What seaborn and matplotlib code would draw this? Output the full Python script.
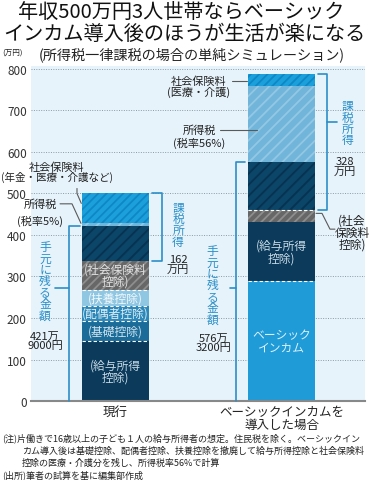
import numpy as np
import matplotlib.pyplot as plt
import seaborn as sns

sns.set_theme(style="white")
plt.rcParams['font.family'] = ['Noto Sans CJK JP', 'DejaVu Sans']
plt.rcParams['hatch.linewidth'] = 1.3

# データ（万円）
cats = ["現行", "ベーシックインカムを\n導入した場合"]
genko_items = ["給与所得控除", "基礎控除", "配偶者控除", "扶養控除", "社会保険料控除", "手取り", "所得税", "社会保険料"]
genko_values = [144, 48, 38, 38, 70, 83.9, 8.1, 70]
bi_items = ["ベーシックインカム", "給与所得控除", "社会保険料控除", "手取り", "所得税", "社会保険料"]
bi_values = [288, 144, 28, 116.32, 183.68, 28]
genko_inner = ["(給与所得\n控除)", "(基礎控除)", "(配偶者控除)", "(扶養控除)", "(社会保険料\n控除)", "", "", ""]
bi_inner = ["ベーシック\nインカム", "(給与所得\n控除)", "", "", "", ""]
taxable_text = ["162\n万円", "328\n万円"]
takehome_text = ["421万\n9000円", "576万\n3200円"]
yticks = [0, 100, 200, 300, 400, 500, 600, 700, 800]

# 色・ハッチ (塗り, ハッチ, ハッチ色, 文字色)
style = {
    "給与所得控除": ("#0b3a5b", None, None, "#c9dae6"),
    "基礎控除": ("#1b6c98", None, None, "#d3e5f0"),
    "配偶者控除": ("#2c88b9", None, None, "#e0eff8"),
    "扶養控除": ("#8fc6e2", None, None, "#f2f9fd"),
    "社会保険料控除": ("#676767", "////", "#8e8e8e", "#e0e0e0"),
    "手取り": ("#0b4568", "///", "#073250", None),
    "所得税": ("#72b5da", "///", "#93c8e4", None),
    "社会保険料": ("#1ba0dc", "////", "#0d87c5", None),
    "ベーシックインカム": ("#1f9bd7", None, None, "#dcf0fb"),
}
blue = "#2b8fc8"
lead = "#5a5a5a"
ink = "#222222"

fig = plt.figure(figsize=(3.7, 4.81), dpi=100)
ax = fig.add_axes([0.0838, 0.1642, 0.9027, 0.6965])
ax.set_facecolor("#e6f3fb")

for i, (cat, items, values, inner) in enumerate(zip(cats, [genko_items, bi_items],
                                                    [genko_values, bi_values],
                                                    [genko_inner, bi_inner])):
    tops = np.cumsum(values)
    # 上の段から順に重ね描き
    for item, top in reversed(list(zip(items, tops))):
        face, hatch, hcol, _ = style[item]
        n0 = len(ax.patches)
        sns.barplot(x=[cat], y=[top], order=cats, color=face, saturation=1,
                    width=0.4, errorbar=None, ax=ax, zorder=2)
        for p in ax.patches[n0:]:
            p.set_linewidth(0)
            if hatch:
                p.set_hatch(hatch)
                p.set_edgecolor(hcol)
    bottoms = tops - np.array(values)
    for item, b, v, txt in zip(items, bottoms, values, inner):
        if txt:
            ax.text(i, b + v / 2, txt, ha="center", va="center", fontsize=8.5,
                    color=style[item][3], linespacing=0.95, zorder=4)

# 控除の境目の破線
for i, values, idx in [(0, genko_values, [0, 1, 2, 3]), (1, bi_values, [0, 2])]:
    tops = np.cumsum(values)
    for k in idx:
        ax.hlines(tops[k], i - 0.2, i + 0.2, colors="white", linestyles=(0, (3, 2)),
                  lw=0.8, zorder=3)

# 手元に残る金額・課税所得の括弧
g_tops = np.cumsum(genko_values)
b_tops = np.cumsum(bi_values)
th = [g_tops[5], b_tops[3]]
ded = [g_tops[4], b_tops[2]]
tot = [g_tops[-1], b_tops[-1]]

def vtext(x, y, s):
    ax.text(x, y, "\n".join(s), ha="center", va="center", fontsize=8.5,
            color=blue, linespacing=0.84, zorder=4)

def ntext(x, y, s):
    ax.text(x, y, s, ha="center", va="center", fontsize=8, color=ink, linespacing=0.9)

# 現行
ax.plot([-0.215, -0.28, -0.28], [th[0], th[0], 0], color=blue, lw=1.2, zorder=4, clip_on=False)
ax.plot([-0.364, -0.28], [272, 272], color=blue, lw=1.2, zorder=4)
vtext(-0.425, 290, "手元に残る金額")
ntext(-0.425, 146, takehome_text[0])
ax.plot([0.22, 0.28, 0.28, 0.22], [tot[0], tot[0], ded[0], ded[0]], color=blue, lw=1.2, zorder=4)
vtext(0.377, 426, "課税所得")
ntext(0.377, 330, taxable_text[0])

# ベーシックインカム導入
ax.plot([0.78, 0.726, 0.726], [th[1], th[1], 0], color=blue, lw=1.2, zorder=4, clip_on=False)
ax.plot([0.69, 0.726], [272, 272], color=blue, lw=1.2, zorder=4)
vtext(0.583, 280, "手元に残る金額")
ntext(0.59, 142, takehome_text[1])
ax.plot([1.22, 1.274, 1.274, 1.22], [tot[1], tot[1], ded[1], ded[1]], color=blue, lw=1.2, zorder=4)
ax.plot([1.274, 1.335], [672, 672], color=blue, lw=1.2, zorder=4)
vtext(1.40, 670, "課税所得")
ntext(1.383, 566, taxable_text[1])

# 引き出し線と注記
ax.text(-0.352, 564, "社会保険料", ha="center", va="center", fontsize=8, color=ink)
ax.text(-0.352, 540, "(年金・医療・介護など)", ha="center", va="center", fontsize=7.6, color=ink)
ax.plot([-0.232, -0.232, -0.206], [512, 500, 476], color=lead, lw=0.8, zorder=4)
ax.text(-0.455, 475, "所得税", ha="center", va="center", fontsize=8, color=ink)
ax.text(-0.455, 436, "(税率5%)", ha="center", va="center", fontsize=8, color=ink)
ax.plot([-0.334, -0.262, -0.208], [475, 475, 428], color=lead, lw=0.8, zorder=4)

ax.text(0.503, 771, "社会保険料", ha="center", va="center", fontsize=8, color=ink)
ax.text(0.503, 745, "(医療・介護)", ha="center", va="center", fontsize=8, color=ink)
ax.plot([0.702, 0.792], [771, 771], color=lead, lw=0.8, zorder=4)
ax.text(0.503, 653, "所得税", ha="center", va="center", fontsize=8, color=ink)
ax.text(0.503, 624, "(税率56%)", ha="center", va="center", fontsize=8, color=ink)
ax.plot([0.63, 0.853], [653, 653], color=lead, lw=0.8, zorder=4)
ax.text(1.425, 407, "(社会\n保険料\n控除)", ha="center", va="center", fontsize=8.5,
        color=ink, linespacing=0.9)
ax.plot([1.208, 1.244, 1.292, 1.322], [452, 452, 414, 414], color=lead, lw=0.8, zorder=4)

# 軸
ax.set_xlim(-0.509, 1.503)
ax.set_ylim(0, 807)
ax.set_yticks(yticks)
ax.set_xticks([0, 1])
ax.set_xticklabels(cats)
ax.set_xlabel("")
ax.set_ylabel("")
ax.yaxis.grid(True, linestyle=(0, (1, 1.5)), color="#8a9aa5", lw=0.7)
ax.set_axisbelow(True)
for s in ["top", "left", "right"]:
    ax.spines[s].set_visible(False)
ax.spines["bottom"].set_color("#888888")
ax.spines["bottom"].set_linewidth(1.5)
ax.tick_params(axis="y", length=0, pad=3, labelsize=8.5, labelcolor="#333333")
ax.tick_params(axis="x", length=0, pad=3, labelsize=9, labelcolor=ink)
for t in ax.get_xticklabels():
    t.set_linespacing(0.95)

# タイトル
fig.text(181.5 / 370, 1 - 13 / 481, "年収500万円3人世帯ならベーシック", ha="center", va="center",
         fontsize=14.5, color="#111111")
fig.text(184.5 / 370, 1 - 34 / 481, "インカム導入後のほうが生活が楽になる", ha="center", va="center",
         fontsize=14.5, color="#111111")
fig.text(2 / 370, 1 - 54 / 481, "(万円)", ha="left", va="center", fontsize=5.5, color=ink)
fig.text(191.5 / 370, 1 - 55 / 481, "(所得税一律課税の場合の単純シミュレーション)", ha="center",
         va="center", fontsize=10.2, color=ink)

# 注
notes = [
    (2, 438, "(注)片働きで16歳以上の子ども１人の給与所得者の想定。住民税を除く。ベーシックイン"),
    (22, 451, "カム導入後は基礎控除、配偶者控除、扶養控除を撤廃して給与所得控除と社会保険料"),
    (22, 463, "控除の医療・介護分を残し、所得税率56%で計算"),
    (2, 475, "(出所)筆者の試算を基に編集部作成"),
]
for x, y, s in notes:
    fig.text(x / 370, 1 - y / 481, s, ha="left", va="center", fontsize=6.5, color=ink)

fig.savefig("out.png", dpi=100)
